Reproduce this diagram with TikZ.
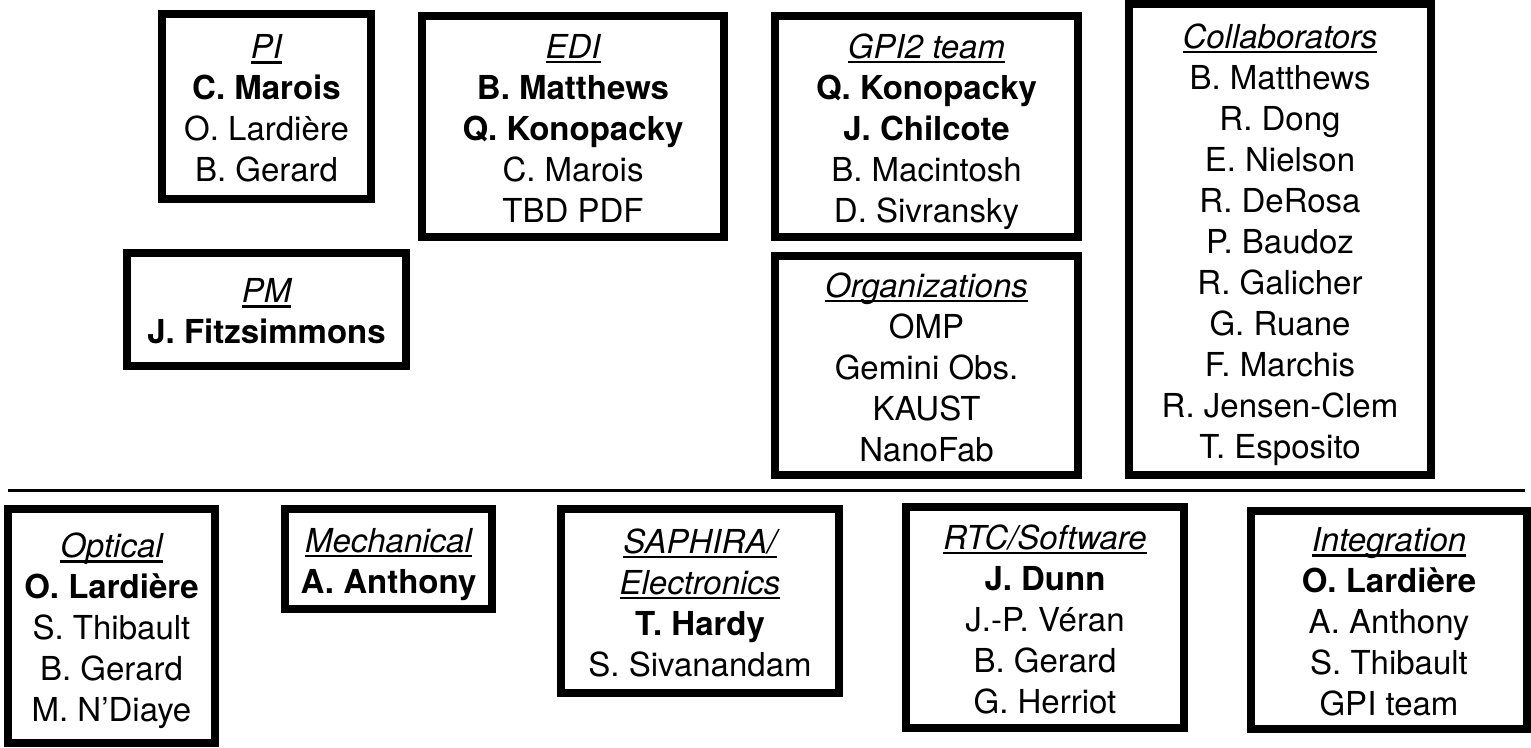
\documentclass[tikz,border=0pt]{standalone}
\usepackage{fontspec}
\setmainfont{TeX Gyre Heros}
\newcommand\grptitle[1]{\setbox0\hbox{\itshape #1}\rule{0pt}{27pt}\rlap{\rule[-5pt]{\wd0}{2.4pt}}\box0}

\begin{document}
\begin{tikzpicture}[x=1pt,y=-1pt,
  grp/.style={draw,line width=8pt,align=center,inner sep=0pt,
    font=\fontsize{33}{41}\selectfont}]
  \useasboundingbox (0,0) rectangle (1531,747);
  % upper row
  \node[grp,minimum width=209pt,minimum height=185pt] (pi) at (266.5,106.5)
    {\grptitle{PI}\\ \textbf{C. Marois}\\ O. Lardière\\ \smash{B. Gerard}};
  \node[grp,minimum width=302pt,minimum height=221pt] (edi) at (573,126.5)
    {\grptitle{EDI}\\ \textbf{B. Matthews}\\ \textbf{Q. Konopacky}\\ C. Marois\\ \smash{TBD PDF}};
  \node[grp,minimum width=303pt,minimum height=221pt] (gpi) at (926.5,126.5)
    {\grptitle{GPI2 team}\\ \textbf{Q. Konopacky}\\ \textbf{J. Chilcote}\\ B. Macintosh\\ \smash{D. Sivransky}};
  \node[grp,minimum width=302pt,minimum height=471pt] (collab) at (1280,239.5)
    {\grptitle{Collaborators}\\ B. Matthews\\ R. Dong\\ E. Nielson\\ R. DeRosa\\ P. Baudoz\\
     R. Galicher\\ G. Ruane\\ F. Marchis\\ R. Jensen-Clem\\ \smash{T. Esposito}};
  \node[grp,minimum width=279pt,minimum height=113pt] (pm) at (266.5,309.5)
    {\grptitle{PM}\\ \smash{\textbf{J. Fitzsimmons}}};
  \node[grp,minimum width=303pt,minimum height=219pt] (org) at (926.5,365.5)
    {\grptitle{Organizations}\\ OMP\\ Gemini Obs.\\ KAUST\\ \smash{NanoFab}};
  % separator
  \coordinate (lstart) at (8,490);
  \coordinate (lend) at (1525,490);
  \draw[line width=3pt] (lstart) -- (lend);
  % lower row
  \node[grp,minimum width=207pt,minimum height=234pt] (opt) at (111.5,626)
    {\grptitle{Optical}\\ \textbf{O. Lardière}\\ S. Thibault\\ B. Gerard\\ \smash{M. N’Diaye}};
  \node[grp,minimum width=207pt,minimum height=100pt] (mech) at (388.5,559)
    {\grptitle{Mechanical}\\ \smash{\textbf{A. Anthony}}};
  \node[grp,minimum width=278pt,minimum height=184pt] (saph) at (700,601)
    {\grptitle{SAPHIRA/}\\ \grptitle{Electronics}\\ \textbf{T. Hardy}\\ \smash{S. Sivanandam}};
  \node[grp,minimum width=278pt,minimum height=221pt] (rtc) at (1045,617.5)
    {\grptitle{RTC/Software}\\ \textbf{J. Dunn}\\ J.-P. Véran\\ B. Gerard\\ \smash{G. Herriot}};
  \node[grp,minimum width=276pt,minimum height=218pt] (integ) at (1389,620)
    {\grptitle{Integration}\\ \textbf{O. Lardière}\\ A. Anthony\\ S. Thibault\\ \smash{GPI team}};
\end{tikzpicture}
\end{document}
